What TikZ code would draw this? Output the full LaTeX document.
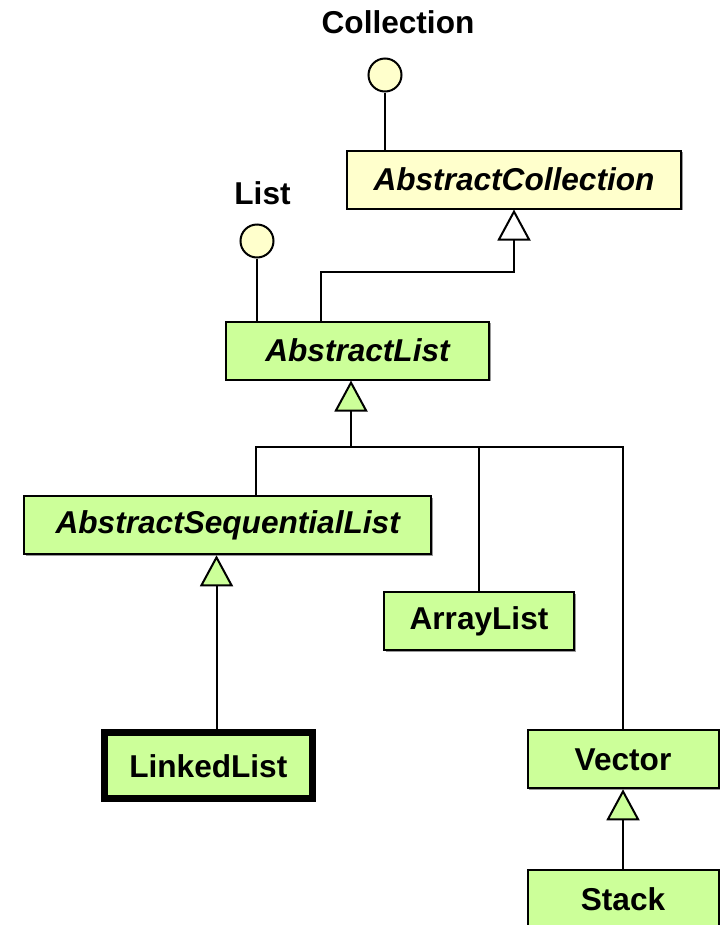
\documentclass[tikz,border=0pt]{standalone}
\usepackage{xcolor}
\usepackage{fontspec}
\setmainfont{Liberation Sans}
\usetikzlibrary{arrows.meta,shadows}

\definecolor{clsyellow}{HTML}{FFFFCC}
\definecolor{clsgreen}{HTML}{CCFF99}
\newcommand{\umlfont}{\fontsize{23.7}{28}\selectfont\bfseries}

\begin{document}
\begin{tikzpicture}[x=0.75pt, y=-0.75pt]
    % Define styles
    \tikzstyle{cls} = [rectangle, draw, line width=1.5pt, fill=clsgreen, text centered, inner sep=0pt, minimum height=43.5pt, font=\umlfont, drop shadow={shadow xshift=1.2pt, shadow yshift=-1.2pt, fill=gray!80, opacity=1}]
    \tikzstyle{abstract} = [cls, font=\umlfont\itshape]
    \tikzstyle{iface} = [circle, draw, line width=1.5pt, fill=clsyellow, minimum size=24.75pt, inner sep=0pt]
    \tikzstyle{ifacename} = [font=\umlfont, inner sep=0pt]
    \tikzstyle{link} = [line width=1.5pt]
    \tikzstyle{genwhite} = [link, -{Triangle[width=24.75pt, length=23.25pt, fill=white]}]
    \tikzstyle{gengreen} = [link, -{Triangle[width=24.75pt, length=23.25pt, fill=clsgreen]}]

    \useasboundingbox (0,0) rectangle (720,925);

    % Nodes
    \node[abstract, fill=clsyellow, minimum width=250.5pt] (acoll) at (514,179.5) {AbstractCollection};
    \node[abstract, minimum width=197.25pt] (alist) at (357.5,350.5) {AbstractList};
    \node[abstract, minimum width=305.25pt] (aseq) at (227.7,525.3) {AbstractSequentialList};
    \node[cls, minimum width=142.5pt] (arraylist) at (479,621) {ArrayList};
    \node[cls, line width=5.25pt, minimum width=156pt, minimum height=49.5pt] (linkedlist) at (208.3,765.7) {LinkedList};
    \node[cls, minimum width=143.25pt] (vector) at (623,759.3) {Vector};
    \node[cls, minimum width=143.25pt] (stack) at (623,899.3) {Stack};

    % Interfaces
    \node[iface] (icoll) at (385,75) {};
    \node[ifacename] (icollname) at (398,22) {Collection};
    \node[iface] (ilist) at (257,241) {};
    \node[ifacename] (ilistname) at (262.5,193) {List};

    % Junctions
    \coordinate (busA) at (321,271.7);
    \coordinate (busB) at (255.5,446.7);
    \coordinate (busC) at (622.5,446.7);
    \coordinate (tapB) at (351,446.7);
    \coordinate (tapL) at (216.5,700);

    % Arrows
    \draw[link] (icoll) -- (acoll.north -| icoll);
    \draw[link] (ilist) -- (alist.north -| ilist);
    \draw[genwhite] (alist.north -| busA) -- (busA) -| (acoll.south);
    \draw[link] (aseq.north -| busB) -- (busB) -- (busC) -- (vector.north -| busC);
    \draw[link] (arraylist.north) -- (arraylist.north |- busB);
    \draw[gengreen] (tapB) -- (alist.south -| tapB);
    \draw[gengreen] (linkedlist.north -| tapL) -- (aseq.south -| tapL);
    \draw[gengreen] (stack) -- (vector);
\end{tikzpicture}
\end{document}
